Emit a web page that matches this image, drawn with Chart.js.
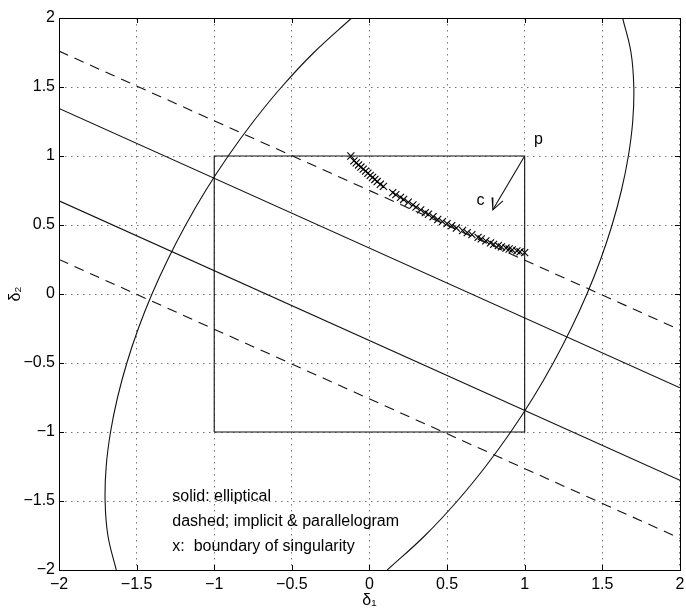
<!DOCTYPE html>
<html>
<head>
<meta charset="utf-8">
<script src="https://cdn.jsdelivr.net/npm/chart.js@4.4.1/dist/chart.umd.min.js"></script>
<style>
  html, body { margin: 0; padding: 0; background: #fff; }
  #wrap { width: 686px; height: 612px; position: relative; }
</style>
</head>
<body>
<div id="wrap"><canvas id="chart"></canvas></div>
<script>
// tick values on both axes
const xTicks = [-2, -1.5, -1, -0.5, 0, 0.5, 1, 1.5, 2];
const yTicks = [-2, -1.5, -1, -0.5, 0, 0.5, 1, 1.5, 2];

// straight boundaries (end points at x = -2 and x = 2)
const solidUpper = [[-2, 1.345], [2, -0.68]];
const solidLower = [[-2, 0.675], [2, -1.35]];
const dashedUpper = [[-2, 1.76], [2, -0.26]];
const dashedLower = [[-2, 0.25], [2, -1.77]];

// unit box |d1|<=1, |d2|<=1
const boxX = [-1, 1, 1, -1, -1];
const boxY = [-1, -1, 1, 1, -1];

// ellipse, two branches sampled on the same d2 values
const ellipseY = [-2, -1.75, -1.5, -1.25, -1, -0.75, -0.5, -0.25, 0, 0.25, 0.5, 0.75, 1, 1.25, 1.5, 1.75, 2];
const ellipseLeftX = [-1.631, -1.685, -1.703, -1.696, -1.668, -1.623, -1.563, -1.489, -1.401, -1.299, -1.184, -1.055, -0.910, -0.748, -0.566, -0.358, -0.115];
const ellipseRightX = [0.115, 0.358, 0.566, 0.748, 0.910, 1.055, 1.184, 1.299, 1.401, 1.489, 1.563, 1.623, 1.668, 1.696, 1.703, 1.685, 1.631];

// boundary of singularity (x markers)
const singX = [-0.12, -0.10, -0.085, -0.07, -0.055, -0.04, -0.025, -0.01, 0.005, 0.02, 0.035, 0.05, 0.07, 0.09,
  0.15, 0.17, 0.20, 0.22, 0.25, 0.28, 0.30, 0.33, 0.36, 0.38, 0.41, 0.44, 0.47, 0.50, 0.53, 0.56, 0.60,
  0.63, 0.66, 0.70, 0.72, 0.75, 0.78, 0.80, 0.83, 0.85, 0.88, 0.90, 0.92, 0.95, 0.97, 1.00];
const singY = [1.00, 0.965, 0.95, 0.935, 0.92, 0.905, 0.89, 0.875, 0.86, 0.845, 0.83, 0.815, 0.795, 0.78,
  0.735, 0.72, 0.70, 0.685, 0.665, 0.645, 0.63, 0.61, 0.59, 0.578, 0.56, 0.54, 0.525, 0.51, 0.495, 0.478, 0.46,
  0.445, 0.43, 0.41, 0.40, 0.385, 0.37, 0.36, 0.35, 0.342, 0.333, 0.326, 0.32, 0.312, 0.306, 0.30];

// direction c from corner p
const arrowShaft = [[1, 1], [0.795, 0.61]];
const arrowHead = [[0.79, 0.70], [0.795, 0.61], [0.86, 0.675]];

const FONT = "'Liberation Sans', Arial, Helvetica, sans-serif";

const pts = arr => arr.map(p => ({ x: p[0], y: p[1] }));
const zip = (xs, ys) => xs.map((v, i) => ({ x: v, y: ys[i] }));

function lineSet(data, dash, tension) {
  return {
    data: data,
    showLine: true,
    borderColor: '#111',
    borderWidth: 1.1,
    borderDash: dash || [],
    pointRadius: 0,
    tension: tension || 0,
    fill: false
  };
}

const fmt = v => (v < 0 ? '\u2212' + Math.abs(v) : String(v));

// frame with inward ticks + text labels
const decor = {
  id: 'decor',
  afterDraw(chart) {
    const { ctx, chartArea: a, scales: { x, y } } = chart;
    ctx.save();
    ctx.strokeStyle = '#000';
    ctx.lineWidth = 1;
    ctx.strokeRect(Math.round(a.left) + 0.5, Math.round(a.top) + 0.5,
      Math.round(a.right - a.left), Math.round(a.bottom - a.top));
    ctx.beginPath();
    xTicks.forEach(v => {
      const px = Math.round(x.getPixelForValue(v)) + 0.5;
      ctx.moveTo(px, a.bottom); ctx.lineTo(px, a.bottom - 5);
      ctx.moveTo(px, a.top); ctx.lineTo(px, a.top + 5);
    });
    yTicks.forEach(v => {
      const py = Math.round(y.getPixelForValue(v)) + 0.5;
      ctx.moveTo(a.left, py); ctx.lineTo(a.left + 5, py);
      ctx.moveTo(a.right, py); ctx.lineTo(a.right - 5, py);
    });
    ctx.stroke();

    ctx.fillStyle = '#000';
    ctx.font = '16px ' + FONT;
    ctx.textBaseline = 'middle';
    ctx.textAlign = 'left';
    ctx.fillText('p', x.getPixelForValue(1.06), y.getPixelForValue(1.12));
    ctx.fillText('c', x.getPixelForValue(0.69), y.getPixelForValue(0.68));

    const lx = x.getPixelForValue(-1.27);
    ctx.fillText('solid: elliptical', lx, y.getPixelForValue(-1.47));
    ctx.fillText('dashed; implicit & parallelogram', lx, y.getPixelForValue(-1.65));
    ctx.fillText('x:  boundary of singularity', lx, y.getPixelForValue(-1.83));
    ctx.restore();
  }
};

const ctx = document.getElementById('chart').getContext('2d');
new Chart(ctx, {
  type: 'scatter',
  data: {
    datasets: [
      lineSet(zip(ellipseLeftX, ellipseY), null, 0.4),
      lineSet(zip(ellipseRightX, ellipseY), null, 0.4),
      lineSet(pts(solidUpper)),
      lineSet(pts(solidLower)),
      lineSet(pts(dashedUpper), [10, 7]),
      lineSet(pts(dashedLower), [10, 7]),
      lineSet(zip(boxX, boxY)),
      lineSet(pts(arrowShaft)),
      lineSet(pts(arrowHead)),
      {
        data: zip(singX, singY),
        showLine: false,
        pointStyle: 'crossRot',
        pointRadius: 5,
        borderColor: '#000',
        borderWidth: 1.1
      }
    ]
  },
  options: {
    responsive: true,
    maintainAspectRatio: false,
    animation: false,
    layout: { padding: { top: 18, right: 4, left: 0, bottom: 0 } },
    plugins: { legend: { display: false }, tooltip: { enabled: false } },
    scales: {
      x: {
        type: 'linear', min: -2, max: 2,
        afterBuildTicks: s => { s.ticks = xTicks.map(v => ({ value: v })); },
        afterFit: s => { s.height = 42; s.paddingLeft = 0; s.paddingRight = 0; },
        ticks: { callback: fmt, color: '#000', font: { family: FONT, size: 16 }, padding: 5, maxRotation: 0 },
        grid: { color: '#777', drawTicks: false, lineWidth: 1 },
        border: { display: false, dash: [1.5, 4.5] },
        title: { display: true, text: '\u03b4\u2081', color: '#000', font: { family: FONT, size: 16 }, padding: { top: 0, bottom: 2 } }
      },
      y: {
        type: 'linear', min: -2, max: 2,
        afterBuildTicks: s => { s.ticks = yTicks.map(v => ({ value: v })); },
        afterFit: s => { s.width = 59; s.paddingTop = 0; s.paddingBottom = 0; },
        ticks: { callback: fmt, color: '#000', font: { family: FONT, size: 16 }, padding: 4 },
        grid: { color: '#777', drawTicks: false, lineWidth: 1 },
        border: { display: false, dash: [1.5, 4.5] },
        title: { display: true, text: '\u03b4\u2082', color: '#000', font: { family: FONT, size: 16 }, padding: { top: 6, bottom: 0 } }
      }
    }
  },
  plugins: [decor]
});
</script>
</body>
</html>
